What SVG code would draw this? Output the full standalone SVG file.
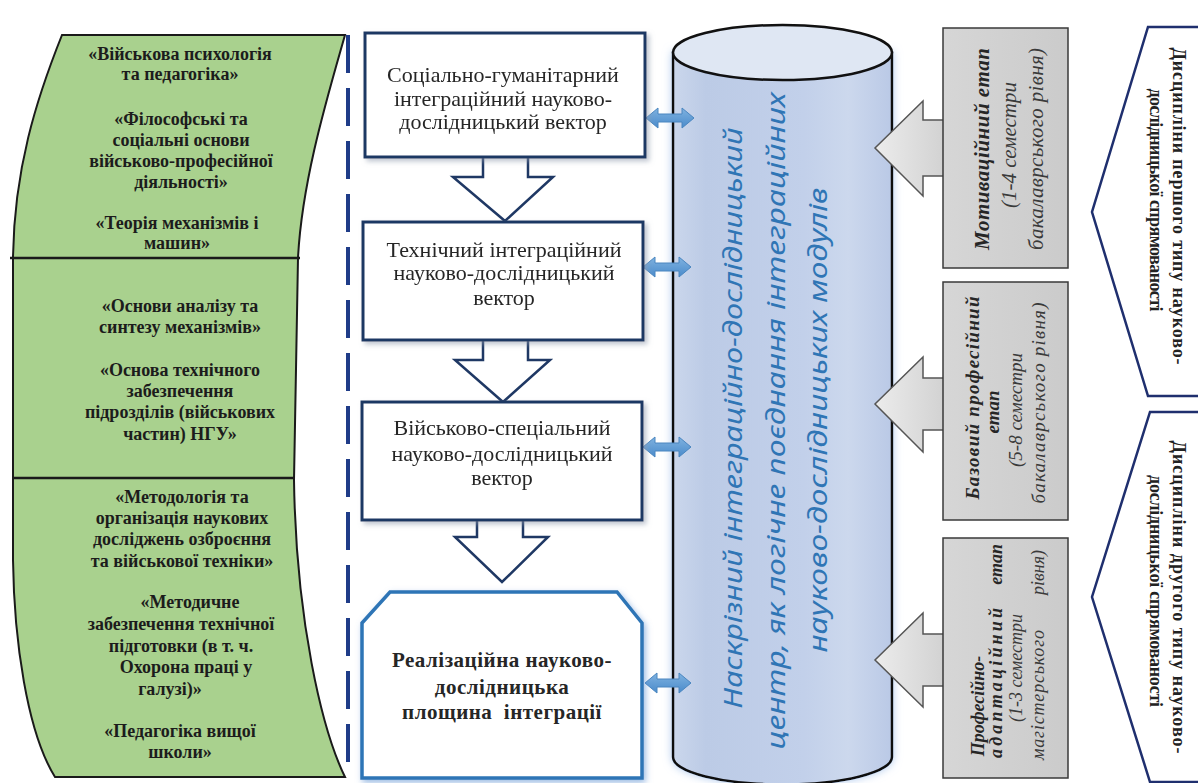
<svg xmlns="http://www.w3.org/2000/svg" width="1198" height="783" viewBox="0 0 1198 783">
<defs>
<style>
.gt{font-family:"Liberation Serif","Times New Roman",serif;font-weight:bold;font-size:18px;fill:#1c1c1c;text-anchor:middle}
.bt{font-family:"Liberation Serif","Times New Roman",serif;font-size:22px;fill:#262626;text-anchor:middle}
.bb{font-weight:bold;font-size:21px;letter-spacing:0.5px}
.ct{font-family:"Noto Sans","DejaVu Sans",sans-serif;font-style:italic;font-size:25px;fill:#2f75b5;text-anchor:middle}
.st{font-family:"Liberation Serif","Times New Roman",serif;font-style:italic;font-size:19px;fill:#3a3a3a;text-anchor:middle}
.s1{font-size:21px}
.s3{font-size:18px}
.ts{text-anchor:start}
.te{text-anchor:end}
.sb{font-weight:bold;fill:#262626}
.pt{font-family:"Liberation Serif","Times New Roman",serif;font-weight:bold;font-size:18px;fill:#222;text-anchor:middle}
.box{fill:#fff;stroke:#1f3864;stroke-width:3}
.darr{fill:#fff;stroke:#1f3864;stroke-width:2.5;stroke-linejoin:miter}
.barr{fill:url(#blueArr);stroke:#4a86c0;stroke-width:1}
.garr{fill:url(#grayArr);stroke:#555;stroke-width:1.5}
.gbox{fill:url(#grayBox);stroke:#3a3a3a;stroke-width:1.5}
.pent{fill:#fff;stroke:#1f2f6e;stroke-width:2.5}
</style>
<linearGradient id="cyl" x1="0" y1="0" x2="1" y2="0">
<stop offset="0" stop-color="#cbd7ec"/>
<stop offset="0.15" stop-color="#bccbe6"/>
<stop offset="0.6" stop-color="#c2d0ea"/>
<stop offset="0.8" stop-color="#ccd8ed"/>
<stop offset="1" stop-color="#bac9e6"/>
</linearGradient>
<linearGradient id="blueArr" x1="0" y1="0" x2="0" y2="1">
<stop offset="0" stop-color="#7fb2e0"/>
<stop offset="1" stop-color="#4a8bcb"/>
</linearGradient>
<linearGradient id="grayArr" x1="0" y1="0" x2="1" y2="0">
<stop offset="0" stop-color="#ececec"/>
<stop offset="1" stop-color="#d2d2d2"/>
</linearGradient>
<linearGradient id="grayBox" x1="0" y1="0" x2="1" y2="0">
<stop offset="0" stop-color="#d6d6d6"/>
<stop offset="1" stop-color="#cbcbcb"/>
</linearGradient>
<filter id="sh" x="-10%" y="-10%" width="130%" height="130%">
<feDropShadow dx="3" dy="3" stdDeviation="2.5" flood-color="#8c98ab" flood-opacity="0.55"/>
</filter>
<filter id="shb" x="-10%" y="-10%" width="130%" height="130%">
<feDropShadow dx="2" dy="3" stdDeviation="3" flood-color="#5b8fd0" flood-opacity="0.6"/>
</filter>
<filter id="glow" x="-10%" y="-5%" width="120%" height="110%">
<feDropShadow dx="0" dy="0" stdDeviation="4" flood-color="#8fb3e6" flood-opacity="0.7"/>
</filter>
</defs>
<rect width="1198" height="783" fill="#fff"/>

<g id="disciplines-panel">
<path d="M62,35 L345,35 C328,95 302,180 298,258 L294,480 C296,620 322,730 345,777 L55,777 C27,732 14,640 13,560 L13,258 C14,170 36,100 62,35 Z" fill="#a9d18e" stroke="#1a1a1a" stroke-width="2"/>
<line x1="10" y1="258" x2="300" y2="258" stroke="#1a1a1a" stroke-width="2.5"/>
<line x1="12" y1="478" x2="295" y2="478" stroke="#1a1a1a" stroke-width="2.5"/>
<text class="gt" x="180" y="60">«Військова психологія</text>
<text class="gt" x="180" y="80">та педагогіка»</text>
<text class="gt" x="181" y="125">«Філософські та</text>
<text class="gt" x="181" y="146">соціальні основи</text>
<text class="gt" x="181" y="167">військово-професійної</text>
<text class="gt" x="181" y="188">діяльності»</text>
<text class="gt" x="177" y="229">«Теорія механізмів і</text>
<text class="gt" x="177" y="249">машин»</text>
<text class="gt" x="180" y="312">«Основи аналізу та</text>
<text class="gt" x="180" y="333">синтезу механізмів»</text>
<text class="gt" x="180" y="376">«Основа технічного</text>
<text class="gt" x="180" y="397">забезпечення</text>
<text class="gt" x="180" y="418">підрозділів (військових</text>
<text class="gt" x="180" y="440">частин) НГУ»</text>
<text class="gt" x="182" y="503">«Методологія та</text>
<text class="gt" x="182" y="524">організація наукових</text>
<text class="gt" x="182" y="545">досліджень озброєння</text>
<text class="gt" x="182" y="567">та військової техніки»</text>
<text class="gt" x="190" y="608">«Методичне</text>
<text class="gt" x="181" y="630">забезпечення технічної</text>
<text class="gt" x="181" y="652">підготовки (в т. ч.</text>
<text class="gt" x="186" y="673">Охорона праці у</text>
<text class="gt" x="170" y="695">галузі)»</text>
<text class="gt" x="180" y="737">«Педагогіка вищої</text>
<text class="gt" x="180" y="758">школи»</text>
</g>

<g id="divider">
<line x1="348" y1="35" x2="348" y2="777" stroke="#1f3c88" stroke-width="4" stroke-dasharray="38 15"/>
</g>

<g id="center-cylinder">
<path d="M673,52.5 V757 A109.5,27.5 0 0 0 892,757 V52.5 Z" fill="url(#cyl)" stroke="#111" stroke-width="2.5" filter="url(#glow)"/>
<ellipse cx="782.5" cy="52.5" rx="109.5" ry="27.5" fill="#dfe7f3" stroke="#111" stroke-width="2.5"/>
<text class="ct" transform="translate(742,418) rotate(-90)" textLength="581" lengthAdjust="spacingAndGlyphs">Наскрізний інтеграційно-дослідницький</text>
<text class="ct" transform="translate(785,421) rotate(-90)" textLength="657" lengthAdjust="spacingAndGlyphs">центр, як логічне поєднання інтеграційних</text>
<text class="ct" transform="translate(827,420) rotate(-90)" textLength="465" lengthAdjust="spacingAndGlyphs">науково-дослідницьких модулів</text>
</g>

<g id="connectors">
<path class="darr" d="M483,157 V177 H453 L505,221 L553,177 H528 V157"/>
<path class="darr" d="M483,340 V360 H455 L503,402 L550,360 H528 V340"/>
<path class="darr" d="M477,520 V537 H455 L502,582 L548,537 H523 V520"/>
<path class="barr" d="M646,118 L658,108 L658,114 L682,114 L682,108 L694,118 L682,128 L682,122 L658,122 L658,128 Z"/>
<path class="barr" d="M643,267 L655,257 L655,263 L679,263 L679,257 L691,267 L679,277 L679,271 L655,271 L655,277 Z"/>
<path class="barr" d="M643,447 L655,437 L655,443 L679,443 L679,437 L691,447 L679,457 L679,451 L655,451 L655,457 Z"/>
<path class="barr" d="M645,683 L657,673 L657,679 L679,679 L679,673 L691,683 L679,693 L679,687 L657,687 L657,693 Z"/>
<path class="garr" d="M944,120 L923,120 L923,101 L875,148 L923,196 L923,176 L944,176"/>
<path class="garr" d="M944,378 L923,378 L923,357 L875,404 L923,452 L923,430 L944,430"/>
<path class="garr" d="M944,634 L923,634 L923,613 L875,660 L923,707 L923,686 L944,686"/>
</g>

<g id="node-social" filter="url(#sh)">
<rect class="box" x="365" y="33" width="280" height="124"/>
<text class="bt" x="503" y="82">Соціально-гуманітарний</text>
<text class="bt" x="503" y="106">інтеграційний науково-</text>
<text class="bt" x="503" y="129">дослідницький вектор</text>
</g>
<g id="node-technical" filter="url(#sh)">
<rect class="box" x="363" y="222" width="280" height="118"/>
<text class="bt" x="504" y="257">Технічний інтеграційний</text>
<text class="bt" x="504" y="280">науково-дослідницький</text>
<text class="bt" x="504" y="305">вектор</text>
</g>
<g id="node-military" filter="url(#sh)">
<rect class="box" x="362" y="402" width="280" height="118"/>
<text class="bt" x="502" y="435">Військово-спеціальний</text>
<text class="bt" x="502" y="461">науково-дослідницький</text>
<text class="bt" x="502" y="485">вектор</text>
</g>
<g id="node-realization">
<path d="M390,592 L617,592 L642,623 L642,778 L362,778 L362,623 Z" fill="#fff" stroke="#2e75b6" stroke-width="3.5" filter="url(#shb)"/>
<text class="bt bb" x="502" y="667">Реалізаційна науково-</text>
<text class="bt bb" x="502" y="694">дослідницька</text>
<text class="bt bb" x="502" y="719">площина&#160; інтеграції</text>
</g>

<g id="stage-motivational">
<rect class="gbox" x="943" y="28" width="125" height="240"/>
<text class="st s1 sb" transform="translate(989,149) rotate(-90)" textLength="202">Мотиваційний етап</text>
<text class="st s1" transform="translate(1016,145) rotate(-90)">(1-4 семестри</text>
<text class="st s1" transform="translate(1043,149) rotate(-90)" textLength="202">бакалаврського рівня)</text>
</g>
<g id="stage-basic">
<rect class="gbox" x="943" y="282" width="125" height="238"/>
<text class="st sb" transform="translate(979,398) rotate(-90)" textLength="203">Базовий професійний</text>
<text class="st sb" transform="translate(999,412) rotate(-90)">етап</text>
<text class="st" transform="translate(1022,410) rotate(-90)">(5-8 семестри</text>
<text class="st" transform="translate(1045,403) rotate(-90)" textLength="201">бакалаврського рівня)</text>
</g>
<g id="stage-adaptive">
<rect class="gbox" x="943" y="538" width="125" height="240"/>
<text class="st s3 sb" transform="translate(984,706) rotate(-90)">Професійно-</text>
<text class="st s3 sb ts" transform="translate(1002,758) rotate(-90)" textLength="150">адаптаційний</text>
<text class="st s3 sb te" transform="translate(1002,544) rotate(-90)">етап</text>
<text class="st s3" transform="translate(1022,668) rotate(-90)">(1-3 семестри</text>
<text class="st s3 ts" transform="translate(1044,760) rotate(-90)" textLength="130">магістерського</text>
<text class="st s3 te" transform="translate(1044,550) rotate(-90)">рівня)</text>
</g>

<g id="type-first">
<path class="pent" d="M1205,27 L1148,27 L1092,212 L1148,396 L1205,396"/>
<text class="pt" transform="translate(1173,206) rotate(90)" textLength="317">Дисципліни першого типу науково-</text>
<text class="pt" transform="translate(1150,200) rotate(90)" textLength="223">дослідницької спрямованості</text>
</g>
<g id="type-second">
<path class="pent" d="M1205,412 L1150,412 L1092,597 L1150,782 L1205,782"/>
<text class="pt" transform="translate(1173,597) rotate(90)" textLength="313">Дисципліни другого типу науково-</text>
<text class="pt" transform="translate(1150,591) rotate(90)" textLength="232">дослідницької спрямованості</text>
</g>
</svg>
